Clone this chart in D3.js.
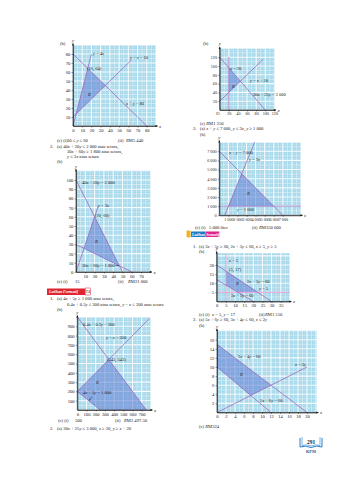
<!DOCTYPE html>
<html><head><meta charset="utf-8">
<script src="https://cdn.jsdelivr.net/npm/d3@7"></script>
<style>
body{margin:0;background:#fff}
svg{display:block}
text{font-family:"Liberation Serif","DejaVu Serif",serif;fill:#222}
</style></head><body>
<svg id="c" width="364" height="480"></svg>
<script>
// ---------- DATA ----------
// Chart A (top-left, 1(b))
const aXTicks=[0,10,20,30,40,50,60,70,80];
const aYTicks=[10,20,30,40,50,60,70,80];
const aLines=[[[0,0],[20,80]],[[0,10],[63,73]],[[0,80],[80,0]]];
const aRegion=[[3.33,13.33],[16,64],[35,45]];
const aLabels=["y = 4x","y − x = 10","(16, 64)","R","x + y = 80"];
// Chart B (left, 2(b))
const bXTicks=[10,20,30,40,50,60,70];
const bYTicks=[0,10,20,30,40,50,60,70,80,90,100];
const bLines=[[[0,100],[50,0]],[[0,30],[60,0]],[[0,0],[24,72]]];
const bRegion=[[8.57,25.71],[20,60],[46.67,6.67]];
const bLabels=["40x + 20y = 2 000","y = 3x","(20, 60)","R","30x + 60y = 1 800"];
// Chart D (bottom-left, Latihan Formatif 1(b))
const dXTicks=[0,100,200,300,400,500,600,700];
const dYTicks=[100,200,300,400,500,600,700,800,900];
const dLines=[[[0,1000],[750,0]],[[0,200],[780,980]],[[0,200],[250,0]]];
const dRegion=[[0,200],[342.86,542.86],[750,0],[250,0]];
const dLabels=["0.4x + 0.3y = 300","y − x = 200","(343, 543)","R","4x + 5y = 1 000"];
// Chart E (top-right)
const eXTicks=[20,40,60,80,100,120];
const eYTicks=[20,40,60,80,100,120];
const eLines=[[[20,0],[20,120]],[[0,20],[95,115]],[[0,120],[100,0]]];
const eRegion=[[20,40],[20,96],[45.45,65.45]];
const eLabels=["x = 20","y = x + 20","R","30x + 25y = 3 000"];
// Chart F (right, 3(b)) - lines as drawn in the picture
const fXTicks=[1000,2000,3000,4000,5000,6000,7000];
const fYTicks=[0,1000,2000,3000,4000,5000,6000,7000];
const fLines=[[[0,7000],[7000,0]],[[600,0],[3900,8000]],[[0,1000],[9000,1000]]];
const fRegion=[[1012,1000],[2469,4531],[6000,1000]];
const fLabels=["x + y = 7 000","y = 3x","R","y = 1 000"];
// Chart G (right, Latihan Sumatif 1(b))
const gXTicks=[0,5,10,15,20,25,30,35];
const gYTicks=[5,10,15,20];
const gLines=[[[0,20],[30,0]],[[0,12],[20,0]]];
const gBounds=[[[5,0],[5,26.5]],[[0,5],[40,5]]];
const gRegion=[[5,9],[5,16.67],[22.5,5],[11.67,5]];
const gLabels=["x = 5","(5, 17)","2x + 3y = 60","R","y = 5","3x + 5y = 60"];
// Chart H (bottom-right, 2(b))
const hXTicks=[0,2,4,6,8,10,12,14,16,18,20];
const hYTicks=[2,4,6,8,10,12,14,16];
const hLines=[[[0,15],[20,0]],[[0,10],[12,0]],[[0,0],[20,10]]];
const hRegion=[[0,10],[0,15],[12,6],[7.5,3.75]];
const hLabels=["3x + 4y = 60","x = 2y","R","5x + 6y = 60"];

// ---------- DRAWING ----------
const svg=d3.select("#c");
const LINE="#9a5cb8", BG="#a2d7ea", SHADE="#5f7bd4", PINK="#e58cc6";
const defs=svg.append("defs");

function richText(sel,str){
  str.split(/([xyR])/).forEach(p=>{
    if(!p) return;
    const t=sel.append("tspan").text(p);
    if(p==="x"||p==="y"||p==="R") t.style("font-style","italic");
  });
}
function txt(x,y,str,size,opt){
  const t=svg.append("text").attr("x",x).attr("y",y).attr("font-size",size||4.6);
  if(opt&&opt.anchor) t.attr("text-anchor",opt.anchor);
  if(opt&&opt.bold) t.attr("font-weight","bold");
  richText(t,str);
  return t;
}

let cid=0;
function chart(c){
  const x=d3.scaleLinear().domain(c.xDom).range(c.xRange);
  const y=d3.scaleLinear().domain(c.yDom).range(c.yRange);
  const g=svg.append("g");
  const x0=x(c.xDom[0]),x1=x(c.xDom[1]),yt=y(c.yDom[1]),yb=y(c.yDom[0]);
  const id="cl"+(cid++);
  defs.append("clipPath").attr("id",id).append("rect").attr("x",x0).attr("y",yt).attr("width",x1-x0).attr("height",yb-yt);
  g.append("rect").attr("x",x0).attr("y",yt).attr("width",x1-x0).attr("height",yb-yt).attr("fill",BG);
  const gg=g.append("g").attr("clip-path",`url(#${id})`);
  const q=d3.range(c.xDom[0],c.xDom[1]+1e-9,c.grid/4);
  q.forEach((v,i)=>{
    const w=i%4===0?1.1:(i%2===0?0.7:0.35), o=i%4===0?0.9:(i%2===0?0.6:0.45);
    gg.append("line").attr("x1",x(v)).attr("x2",x(v)).attr("y1",yt).attr("y2",yb).attr("stroke","#fff").attr("stroke-width",w).attr("stroke-opacity",o);
  });
  const qy=d3.range(c.yDom[0],c.yDom[1]+1e-9,c.gridY/4);
  qy.forEach((v,i)=>{
    const w=i%4===0?1.1:(i%2===0?0.7:0.35), o=i%4===0?0.9:(i%2===0?0.6:0.45);
    gg.append("line").attr("y1",y(v)).attr("y2",y(v)).attr("x1",x0).attr("x2",x1).attr("stroke","#fff").attr("stroke-width",w).attr("stroke-opacity",o);
  });
  const ln=d3.line().x(d=>x(d[0])).y(d=>y(d[1]));
  gg.append("path").attr("d",ln(c.region)+"Z").attr("fill",SHADE).attr("fill-opacity",0.55);
  (c.bounds||[]).forEach(l=>g.append("path").attr("d",ln(l)).attr("stroke",PINK).attr("stroke-width",0.8).attr("fill","none"));
  c.lines.forEach(l=>g.append("path").attr("d",ln(l)).attr("stroke",LINE).attr("stroke-width",0.7).attr("fill","none"));
  const ax=g.append("g").attr("transform",`translate(0,${y(0)})`).call(d3.axisBottom(x).tickValues(c.xTicks).tickSize(1.5).tickSizeOuter(0).tickPadding(1).tickFormat(c.xFmt||(d=>d)));
  const ay=g.append("g").attr("transform",`translate(${x(0)},0)`).call(d3.axisLeft(y).tickValues(c.yTicks).tickSize(1.5).tickSizeOuter(0).tickPadding(1.2).tickFormat(c.yFmt||(d=>d)));
  [ax,ay].forEach(a=>{
    a.selectAll("text").attr("font-size",c.fs||4.6).attr("font-family",'"Liberation Serif",serif').attr("fill","#222");
    a.selectAll("line").attr("stroke","#111").attr("stroke-width",0.4);
    a.select(".domain").attr("stroke","#111").attr("stroke-width",0.6);
  });
  if(c.zeroX) ax.selectAll(".tick").filter(d=>d===0).select("line").remove();
  const ya=yt-1.5, xa=x1+1.5;
  g.append("line").attr("x1",x(0)).attr("x2",x(0)).attr("y1",yb).attr("y2",ya).attr("stroke","#111").attr("stroke-width",0.6);
  g.append("path").attr("d",`M${x(0)-1},${ya+2}L${x(0)},${ya-0.5}L${x(0)+1},${ya+2}Z`).attr("fill","#111");
  g.append("line").attr("x1",x0).attr("x2",xa).attr("y1",yb).attr("y2",yb).attr("stroke","#111").attr("stroke-width",0.6);
  g.append("path").attr("d",`M${xa-2},${yb-1}L${xa+0.5},${yb}L${xa-2},${yb+1}Z`).attr("fill","#111");
  txt(x(0),ya-1.5,"y",4.8,{anchor:"middle"});
  txt(xa+1.5,yb+1.5,"x",4.8);
  if(c.origin) txt(x(0)-1.8,yb+5,c.origin,4.6,{anchor:"middle"});
  c.labels.forEach((t,i)=>{const p=c.labelPos[i]; txt(p[0],p[1],t,c.lfs||4.5);});
  (c.arrows||[]).forEach(a=>{
    g.append("line").attr("x1",a[0]).attr("y1",a[1]).attr("x2",a[2]).attr("y2",a[3]).attr("stroke","#111").attr("stroke-width",0.4);
    const ang=Math.atan2(a[3]-a[1],a[2]-a[0]);
    const h=1.4;
    g.append("path").attr("d",`M${a[2]},${a[3]}L${a[2]-h*Math.cos(ang-0.5)},${a[3]-h*Math.sin(ang-0.5)}L${a[2]-h*Math.cos(ang+0.5)},${a[3]-h*Math.sin(ang+0.5)}Z`).attr("fill","#111");
  });
  return {x,y};
}
const sp=d=>d3.format(",")(d).replace(/,/g," ");

chart({xDom:[0,90],xRange:[73,156],yDom:[0,90],yRange:[126,45],grid:10,gridY:10,
  xTicks:aXTicks,yTicks:aYTicks,lines:aLines,region:aRegion,labels:aLabels,
  labelPos:[[93,55],[130,59.3],[87,70],[88,96],[126,105]],zeroX:true});
chart({xDom:[0,80],xRange:[76,150.4],yDom:[0,110],yRange:[272,170.8],grid:10,gridY:10,
  xTicks:bXTicks,yTicks:bYTicks,lines:bLines,region:bRegion,labels:bLabels,
  labelPos:[[82,184],[98,207.3],[95,216.6],[95,243],[82,267]],arrows:[[115,265.3,118.8,265.8]]});
chart({xDom:[0,800],xRange:[77.3,150.9],yDom:[0,1000],yRange:[410,317],grid:100,gridY:100,
  xTicks:dXTicks,yTicks:dYTicks,lines:dLines,region:dRegion,labels:dLabels,zeroX:true,
  labelPos:[[83,325.6],[106,339],[107,361],[96,384],[83,394.3]],arrows:[[92,396.5,89.3,400.6]]});
chart({xDom:[0,120],xRange:[219.7,274.4],yDom:[0,140],yRange:[110,48.4],grid:20,gridY:20,
  xTicks:eXTicks,yTicks:eYTicks,lines:eLines,region:eRegion,labels:eLabels,origin:"O",fs:4.2,
  labelPos:[[230,69.5],[250,81.5],[232,88],[253,96]]});
chart({xDom:[0,9000],xRange:[219.3,301],yDom:[0,8000],yRange:[215.3,142.1],grid:1000,gridY:1000,
  xTicks:fXTicks,yTicks:fYTicks,lines:fLines,region:fRegion,labels:fLabels,xFmt:sp,yFmt:sp,fs:4.2,
  labelPos:[[229,154],[249,160.5],[247,195],[237,210.5]]});
chart({xDom:[0,40],xRange:[216.7,289.9],yDom:[0,26.5],yRange:[301.5,253.1],grid:5,gridY:5,
  xTicks:gXTicks,yTicks:gYTicks,lines:gLines,bounds:gBounds,region:gRegion,labels:gLabels,zeroX:true,
  labelPos:[[229,262],[229,270.5],[247,282.5],[236,285],[259,290],[231,296.5]]});
chart({xDom:[0,22.2],xRange:[217,316.9],yDom:[0,18],yRange:[412.5,330.6],grid:2,gridY:2,
  xTicks:hXTicks,yTicks:hYTicks,lines:hLines,region:hRegion,labels:hLabels,zeroX:true,
  labelPos:[[238,357.5],[295,365.5],[240,376],[260,401.5]]});

// ---------- TEXT ----------
const T=[
 [60,44.5,"(b)"],
 [57,142.3,"(c) (i)"],[67,142.3,"30 ≤ y ≤ 60"],[118,142.3,"(ii)"],[126,142.3,"RM5 440"],
 [50,147.5,"2."],[57,147.5,"(a) 40x + 20y ≤ 2 000 atau setara,"],
 [67,152.5,"30x + 60y ≥ 1 800 atau setara,"],
 [67,157.5,"y ≤ 3x atau setara"],
 [57,162.5,"(b)"],
 [57,282.5,"(c) (i)"],[75,282.5,"15"],[118,282.5,"(ii)"],[128,282.5,"RM21 000"],
 [50,300.3,"1."],[57,300.3,"(a) 4x + 5y ≥ 1 000 atau setara,"],
 [67,305.8,"0.4x + 0.3y ≤ 300 atau setara, y − x ≤ 200 atau setara"],
 [57,311.3,"(b)"],
 [58,422.3,"(c) (i)"],[75,422.3,"500"],[115,422.3,"(ii)"],[124,422.3,"RM2 497.50"],
 [50,430.3,"2."],[57,430.3,"(a) 30x + 25y ≤ 3 000, x ≥ 20, y ≥ x + 20"],
 [203,44.5,"(b)"],
 [200,124.5,"(c) RM1 350"],
 [193,130,"3."],[200,130,"(a) x + y ≤ 7 000, y ≤ 3x, y ≥ 1 000"],
 [200,135.5,"(b)"],
 [195,229,"(c) (i)"],[209,229,"5 000 liter"],[252,229,"(ii)"],[259,229,"RM350 000"],
 [193,247.5,"1."],[199,247.5,"(a) 3x + 5y ≥ 60, 2x + 3y ≤ 60, x ≥ 5, y ≥ 5"],
 [199,252.5,"(b)"],
 [199,315.5,"(c) (i)"],[212,315.5,"x = 5, y = 17"],[259,315.5,"(ii)"],[265,315.5,"RM1 550"],
 [193,321,"2."],[199,321,"(a) 5x + 6y ≥ 60, 3x + 4y ≤ 60, x ≤ 2y"],
 [199,326.5,"(b)"],
 [199,427.5,"(c) RM324"]
];
T.forEach(d=>txt(d[0],d[1],d[2],4.6));

// banners
svg.append("rect").attr("x",47).attr("y",288.5).attr("width",38).attr("height",6.5).attr("fill","#df2530");
svg.append("text").attr("x",49).attr("y",293.4).attr("font-size",4).attr("font-weight","bold").attr("font-style","italic").style("fill","#fff").attr("font-family","Liberation Sans, Arial, sans-serif").text("Latihan Formatif");
svg.append("rect").attr("x",85.3).attr("y",288).attr("width",5.2).attr("height",7).attr("fill","#fff").attr("stroke","#df2530").attr("stroke-width",0.5);
svg.append("text").attr("x",87.9).attr("y",293.2).attr("font-size",3.6).attr("font-weight","bold").attr("text-anchor","middle").attr("font-family","Liberation Sans, Arial, sans-serif").text("7.3");

svg.append("rect").attr("x",186.5).attr("y",230.5).attr("width",4).attr("height",7).attr("fill","#f4b223").attr("rx",1);
svg.append("rect").attr("x",191).attr("y",231.5).attr("width",14).attr("height",5.5).attr("fill","#1f7cc6");
svg.append("text").attr("x",192).attr("y",235.8).attr("font-size",4).attr("font-weight","bold").attr("font-style","italic").style("fill","#fff").attr("font-family","Liberation Sans, Arial, sans-serif").text("Latihan");
svg.append("rect").attr("x",205.3).attr("y",231.5).attr("width",14).attr("height",5.5).attr("fill","#e0258c");
svg.append("text").attr("x",206.3).attr("y",235.8).attr("font-size",4).attr("font-weight","bold").attr("font-style","italic").style("fill","#fff").attr("font-family","Liberation Sans, Arial, sans-serif").text("Sumatif");

// page number book
const bk=svg.append("g");
bk.append("path").attr("d","M300,438 L300,447 Q305.5,445 311,447.5 Q316.5,445 322,447 L322,438").attr("fill","none").attr("stroke","#2a7fc8").attr("stroke-width",1);
bk.append("path").attr("d","M302,437 L302,445.5 Q306.5,444 311,446 Q315.5,444 320,445.5 L320,437").attr("fill","none").attr("stroke","#2a7fc8").attr("stroke-width",0.6);
svg.append("text").attr("x",311).attr("y",443.5).attr("text-anchor","middle").attr("font-size",5.5).attr("font-weight","bold").text("291");
svg.append("text").attr("x",311).attr("y",452.5).attr("text-anchor","middle").attr("font-size",4.2).attr("font-weight","bold").style("fill","#2a5a8c").text("KPM");
</script></body></html>
